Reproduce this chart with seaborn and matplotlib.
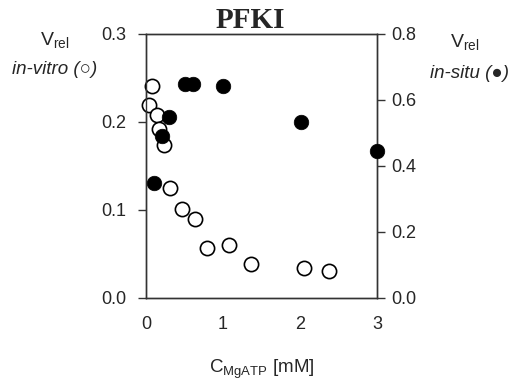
import matplotlib
matplotlib.use("Agg")
import matplotlib.pyplot as plt
import seaborn as sns
import pandas as pd

# in-vitro (open circles, left axis)
vitro_x = [0.04, 0.074, 0.147, 0.173, 0.234, 0.316, 0.463, 0.636, 0.788, 1.08, 1.37, 2.05, 2.38]
vitro_y = [0.219, 0.241, 0.208, 0.192, 0.174, 0.125, 0.101, 0.090, 0.057, 0.060, 0.039, 0.034, 0.031]
# in-situ (filled circles, right axis)
situ_x = [0.104, 0.204, 0.299, 0.506, 0.606, 1.004, 2.01, 3.0]
situ_y = [0.349, 0.492, 0.548, 0.648, 0.648, 0.643, 0.532, 0.446]

left_ticks = [0.0, 0.1, 0.2, 0.3]
right_ticks = [0.0, 0.2, 0.4, 0.6, 0.8]
x_ticks = [0, 1, 2, 3]

sns.set_style("white")
plt.rcParams['font.family'] = ['Liberation Sans', 'DejaVu Sans']

fig = plt.figure(figsize=(5.13, 3.84), dpi=100)
ax = fig.add_axes([146/513, 1-298/384, (377-146)/513, (298-34)/384])
ax2 = ax.twinx()

dv = pd.DataFrame({"x": vitro_x, "y": vitro_y})
ds = pd.DataFrame({"x": situ_x, "y": situ_y})

sns.scatterplot(data=dv, x="x", y="y", ax=ax, s=105, facecolor="white",
                edgecolor="black", linewidth=1.2, zorder=3, clip_on=False)
sns.scatterplot(data=ds, x="x", y="y", ax=ax2, s=110, color="black",
                edgecolor="black", linewidth=0.5, zorder=3, clip_on=False)

ax.set_xlim(0, 3)
ax.set_ylim(0, 0.3)
ax2.set_ylim(0, 0.8)
ax.set_xticks(x_ticks)
ax.set_xticklabels([str(t) for t in x_ticks])
ax.set_yticks(left_ticks)
ax.set_yticklabels([f"{t:.1f}" for t in left_ticks])
ax2.set_yticks(right_ticks)
ax2.set_yticklabels([f"{t:.1f}" for t in right_ticks])
ax.set_xlabel("")
ax.set_ylabel("")
ax2.set_xlabel("")
ax2.set_ylabel("")

lc = "#333333"
for a in (ax, ax2):
    for sp in a.spines.values():
        sp.set_color(lc)
        sp.set_linewidth(1.0)
        sp.set_visible(True)
ax.tick_params(axis="y", direction="out", length=6, width=1, color=lc, labelsize=13, pad=8)
ax.tick_params(axis="x", direction="inout", length=10, width=1, color=lc, labelsize=13, pad=8)
ax2.tick_params(axis="y", direction="out", length=6, width=1, color=lc, labelsize=13, pad=4)

fig.text(250/513, 1-20/384, "PFKI", ha="center", va="center", fontsize=21,
         fontweight="bold", family="Liberation Serif")
fig.text(55/513, 1-41/384, r"V$_{\mathregular{rel}}$", ha="center", va="center", fontsize=14)
fig.text(55/513, 1-69/384, "in-vitro (○)", ha="center", va="center", fontsize=13.5,
         style="italic", family=["Liberation Sans", "DejaVu Sans"])
fig.text(465/513, 1-43/384, r"V$_{\mathregular{rel}}$", ha="center", va="center", fontsize=14)
fig.text(469/513, 1-73/384, "in-situ (●)", ha="center", va="center", fontsize=13.5,
         style="italic", family=["Liberation Sans", "DejaVu Sans"])
fig.text(262/513, 1-369/384, r"C$_{\mathregular{MgATP}}$ [mM]", ha="center", va="center", fontsize=13.5)

fig.savefig("out.png", dpi=100)
